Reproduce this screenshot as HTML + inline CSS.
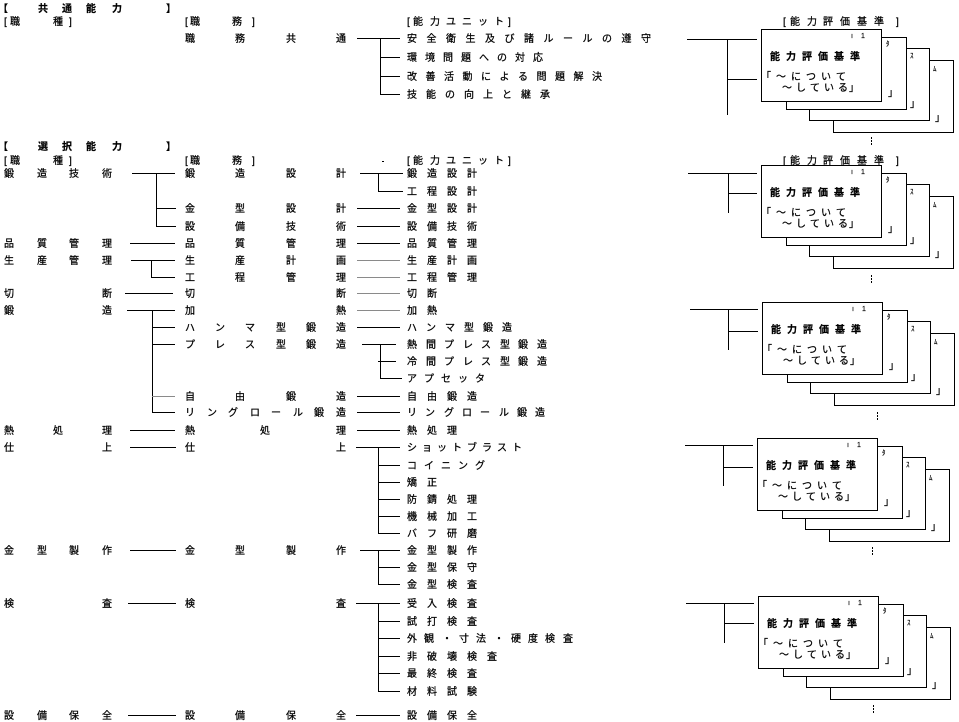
<!DOCTYPE html>
<html><head><meta charset="utf-8">
<style>
html,body{margin:0;padding:0;background:#fff;width:959px;height:722px;overflow:hidden}
svg{display:block}
text{font-family:"Liberation Sans","Noto Sans CJK JP",sans-serif;font-size:10px;fill:#000;stroke:#000;stroke-width:0.25}
.b{font-weight:bold;stroke-width:0.2}
.s{font-size:7px;stroke-width:0.15}
.ln{stroke:#000;stroke-width:1;fill:none;shape-rendering:crispEdges}
.gr{stroke:#8a8a8a;stroke-width:1;fill:none;shape-rendering:crispEdges}
.cd{fill:#fff;stroke:#000;stroke-width:1;shape-rendering:crispEdges}
</style></head><body>
<svg width="959" height="722" viewBox="0 0 959 722" xmlns="http://www.w3.org/2000/svg">

<!-- Section 1 -->
<text class="b" x="-2 38 62 86 112 166" y="12">【共通能力】</text>
<text x="4 10 53 69" y="25">[職種]</text>
<text x="185 190 232 252" y="25">[職務]</text>
<text x="407 413 430 446 462 478 494 508" y="25">[能力ユニット]</text>
<text x="783 790 807 823 840 857 874 896" y="25">[能力評価基準]</text>

<text x="185 235 286 336" y="42">職務共通</text>
<text x="407 426.5 446 465.5 485 504.5 524 543.5 563 582.5 602 621.5 641" y="42">安全衛生及び諸ルールの遵守</text>
<text x="407 425 443 461 479 497 515 533" y="61">環境問題への対応</text>
<text x="407 425.5 444 462.5 481 499.5 518 536.5 555 573.5 592" y="80">改善活動による問題解決</text>
<text x="407 426 445 464 483 502 521 540" y="98">技能の向上と継承</text>

<path class="ln" d="M357 38.5H400 M380.5 38V95 M380 57.5H400 M380 76.5H400 M380 94.5H400"/>

<!-- Section 2 -->
<text class="b" x="-2 38 62 86 112 166" y="150">【選択能力】</text>
<text x="4 10 53 69" y="164">[職種]</text>
<text x="185 190 232 252" y="164">[職務]</text>
<text x="407 413 430 446 462 478 494 508" y="164">[能力ユニット]</text>
<text x="783 790 807 823 840 857 874 896" y="164">[能力評価基準]</text>
<rect x="382" y="161" width="2" height="1" fill="#000"/>

<!-- Column 1 -->
<text x="4 37 69 102" y="177">鍛造技術</text>
<text x="4 37 69 102" y="247">品質管理</text>
<text x="4 37 69 102" y="264">生産管理</text>
<text x="4 102" y="297">切断</text>
<text x="4 102" y="314">鍛造</text>
<text x="4 53 102" y="434">熱処理</text>
<text x="4 102" y="451">仕上</text>
<text x="4 37 69 102" y="554">金型製作</text>
<text x="4 102" y="607">検査</text>
<text x="4 37 69 102" y="719">設備保全</text>

<!-- Column 2 -->
<text x="185 235 286 336" y="177">鍛造設計</text>
<text x="185 235 286 336" y="212">金型設計</text>
<text x="185 235 286 336" y="230">設備技術</text>
<text x="185 235 286 336" y="247">品質管理</text>
<text x="185 235 286 336" y="264">生産計画</text>
<text x="185 235 286 336" y="281">工程管理</text>
<text x="185 336" y="297">切断</text>
<text x="185 336" y="314">加熱</text>
<text x="185 215 245 276 306 336" y="331">ハンマ型鍛造</text>
<text x="185 215 245 276 306 336" y="348">プレス型鍛造</text>
<text x="185 235 286 336" y="400">自由鍛造</text>
<text x="185 207 228 250 271 293 314 336" y="416">リングロール鍛造</text>
<text x="185 260 336" y="434">熱処理</text>
<text x="185 336" y="451">仕上</text>
<text x="185 235 286 336" y="554">金型製作</text>
<text x="185 336" y="607">検査</text>
<text x="185 235 286 336" y="719">設備保全</text>

<!-- Column 3 -->
<text x="407 427 447 467" y="177">鍛造設計</text>
<text x="407 427 447 467" y="195">工程設計</text>
<text x="407 427 447 467" y="212">金型設計</text>
<text x="407 427 447 467" y="230">設備技術</text>
<text x="407 427 447 467" y="247">品質管理</text>
<text x="407 427 447 467" y="264">生産計画</text>
<text x="407 427 447 467" y="281">工程管理</text>
<text x="407 427" y="297">切断</text>
<text x="407 427" y="314">加熱</text>
<text x="407 426 445 464 483 502" y="331">ハンマ型鍛造</text>
<text x="407 426 444 463 481 500 518 537" y="348">熱間プレス型鍛造</text>
<text x="407 426 444 463 481 500 518 537" y="365">冷間プレス型鍛造</text>
<text x="407 424 441 458 475" y="382">アプセッタ</text>
<text x="407 427 447 467" y="400">自由鍛造</text>
<text x="407 425 444 462 480 499 517 535" y="416">リングロール鍛造</text>
<text x="407 427 447" y="434">熱処理</text>
<text x="407 422 437 452 467 482 497 512" y="451">ショットブラスト</text>
<text x="407 424 441 458 475" y="469">コイニング</text>
<text x="407 427" y="486">矯正</text>
<text x="407 427 447 467" y="503">防錆処理</text>
<text x="407 427 447 467" y="520">機械加工</text>
<text x="407 427 447 467" y="537">バフ研磨</text>
<text x="407 427 447 467" y="554">金型製作</text>
<text x="407 427 447 467" y="571">金型保守</text>
<text x="407 427 447 467" y="588">金型検査</text>
<text x="407 427 447 467" y="607">受入検査</text>
<text x="407 427 447 467" y="625">試打検査</text>
<text x="407 424 442 459 476 494 511 528 545 563" y="642">外観・寸法・硬度検査</text>
<text x="407 427 447 467 487" y="660">非破壊検査</text>
<text x="407 427 447 467" y="677">最終検査</text>
<text x="407 427 447 467" y="695">材料試験</text>
<text x="407 427 447 467" y="719">設備保全</text>

<!-- Section 2 connectors (black) -->
<path class="ln" d="
M132 173.5H175 M156.5 173V227 M156 208.5H176 M156 226.5H176
M360 173.5H403 M378.5 173V192 M378 191.5H403
M357 208.5H400
M357 226.5H400
M130 243.5H175 M357 243.5H400
M131 260.5H175 M151.5 260V278 M151 277.5H175
M125 293.5H173
M127 310.5H175 M152.5 310V413 M152 327.5H175 M152 344.5H175 M152 412.5H175
M357 327.5H400
M362 344.5H396 M380.5 344V379 M378 361.5H396 M380 378.5H402
M357 396.5H400
M357 412.5H400
M130 430.5H175 M357 430.5H400
M130 447.5H176 M356 447.5H400 M378.5 447V534 M378 465.5H400 M378 482.5H400 M378 499.5H400 M378 516.5H400 M378 533.5H400
M130 550.5H176 M360 550.5H400 M378.5 550V585 M378 567.5H400 M378 584.5H400
M128 603.5H176 M356 603.5H400 M378.5 603V692 M378 621.5H400 M378 638.5H400 M378 656.5H400 M378 673.5H400 M378 691.5H400
M128 715.5H176 M356 715.5H400
"/>
<!-- gray connectors -->
<path class="gr" d="M357 260.5H400 M357 277.5H400 M357 293.5H400 M357 310.5H400 M152 396.5H175"/>

<!-- Card group connectors -->
<path class="ln" d="
M687 39.5H757 M727.5 39V115 M727 79.5H757
M688 173.5H757 M728.5 173V213 M728 193.5H757
M690 309.5H758 M728.5 309V350 M728 331.5H758
M685 445.5H753 M723.5 445V486 M723 467.5H753
M686 603.5H754 M724.5 603V643 M724 623.5H754
"/>

<!-- Card groups -->
<g transform="translate(761,29)">
<rect class="cd" x="72.5" y="31.5" width="120" height="72"/>
<rect class="cd" x="48.5" y="19.5" width="120" height="72"/>
<rect class="cd" x="25.5" y="8.5" width="120" height="72"/>
<rect class="cd" x="0.5" y="0.5" width="120" height="72"/>
<text class="s" x="90 100" y="9">ı1</text>
<text class="b" x="9 25 41 57 73 89" y="31">能力評価基準</text>
<text x="0 15 30 45 60 75" y="51">「～について</text>
<text x="21 35 49 63 77 88" y="62">～している」</text>
<text class="s" x="125" y="17">ﾀ</text><text x="127" y="67">」</text>
<text class="s" x="149" y="29">ｽ</text><text x="149" y="78">」</text>
<text class="s" x="172" y="42">ﾑ</text><text x="174" y="92">」</text>
</g>
<g transform="translate(761,165)">
<rect class="cd" x="72.5" y="31.5" width="120" height="72"/>
<rect class="cd" x="48.5" y="19.5" width="120" height="72"/>
<rect class="cd" x="25.5" y="8.5" width="120" height="72"/>
<rect class="cd" x="0.5" y="0.5" width="120" height="72"/>
<text class="s" x="90 100" y="9">ı1</text>
<text class="b" x="9 25 41 57 73 89" y="31">能力評価基準</text>
<text x="0 15 30 45 60 75" y="51">「～について</text>
<text x="21 35 49 63 77 88" y="62">～している」</text>
<text class="s" x="125" y="17">ﾀ</text><text x="127" y="67">」</text>
<text class="s" x="149" y="29">ｽ</text><text x="149" y="78">」</text>
<text class="s" x="172" y="42">ﾑ</text><text x="174" y="92">」</text>
</g>
<g transform="translate(762,302)">
<rect class="cd" x="72.5" y="31.5" width="120" height="72"/>
<rect class="cd" x="48.5" y="19.5" width="120" height="72"/>
<rect class="cd" x="25.5" y="8.5" width="120" height="72"/>
<rect class="cd" x="0.5" y="0.5" width="120" height="72"/>
<text class="s" x="90 100" y="9">ı1</text>
<text class="b" x="9 25 41 57 73 89" y="31">能力評価基準</text>
<text x="0 15 30 45 60 75" y="51">「～について</text>
<text x="21 35 49 63 77 88" y="62">～している」</text>
<text class="s" x="125" y="17">ﾀ</text><text x="127" y="67">」</text>
<text class="s" x="149" y="29">ｽ</text><text x="149" y="78">」</text>
<text class="s" x="172" y="42">ﾑ</text><text x="174" y="92">」</text>
</g>
<g transform="translate(757,438)">
<rect class="cd" x="72.5" y="31.5" width="120" height="72"/>
<rect class="cd" x="48.5" y="19.5" width="120" height="72"/>
<rect class="cd" x="25.5" y="8.5" width="120" height="72"/>
<rect class="cd" x="0.5" y="0.5" width="120" height="72"/>
<text class="s" x="90 100" y="9">ı1</text>
<text class="b" x="9 25 41 57 73 89" y="31">能力評価基準</text>
<text x="0 15 30 45 60 75" y="51">「～について</text>
<text x="21 35 49 63 77 88" y="62">～している」</text>
<text class="s" x="125" y="17">ﾀ</text><text x="127" y="67">」</text>
<text class="s" x="149" y="29">ｽ</text><text x="149" y="78">」</text>
<text class="s" x="172" y="42">ﾑ</text><text x="174" y="92">」</text>
</g>
<g transform="translate(758,596)">
<rect class="cd" x="72.5" y="31.5" width="120" height="72"/>
<rect class="cd" x="48.5" y="19.5" width="120" height="72"/>
<rect class="cd" x="25.5" y="8.5" width="120" height="72"/>
<rect class="cd" x="0.5" y="0.5" width="120" height="72"/>
<text class="s" x="90 100" y="9">ı1</text>
<text class="b" x="9 25 41 57 73 89" y="31">能力評価基準</text>
<text x="0 15 30 45 60 75" y="51">「～について</text>
<text x="21 35 49 63 77 88" y="62">～している」</text>
<text class="s" x="125" y="17">ﾀ</text><text x="127" y="67">」</text>
<text class="s" x="149" y="29">ｽ</text><text x="149" y="78">」</text>
<text class="s" x="172" y="42">ﾑ</text><text x="174" y="92">」</text>
</g>

<!-- vertical ellipsis dots -->
<g fill="#000">
<rect x="871" y="137" width="1" height="2"/><rect x="871" y="140" width="1" height="2"/><rect x="871" y="143" width="1" height="2"/>
<rect x="871" y="275" width="1" height="2"/><rect x="871" y="278" width="1" height="2"/><rect x="871" y="281" width="1" height="2"/>
<rect x="877" y="412" width="1" height="2"/><rect x="877" y="415" width="1" height="2"/><rect x="877" y="418" width="1" height="2"/>
<rect x="872" y="547" width="1" height="2"/><rect x="872" y="550" width="1" height="2"/><rect x="872" y="553" width="1" height="2"/>
<rect x="873" y="705" width="1" height="2"/><rect x="873" y="708" width="1" height="2"/><rect x="873" y="711" width="1" height="2"/>
</g>
</svg>
</body></html>
